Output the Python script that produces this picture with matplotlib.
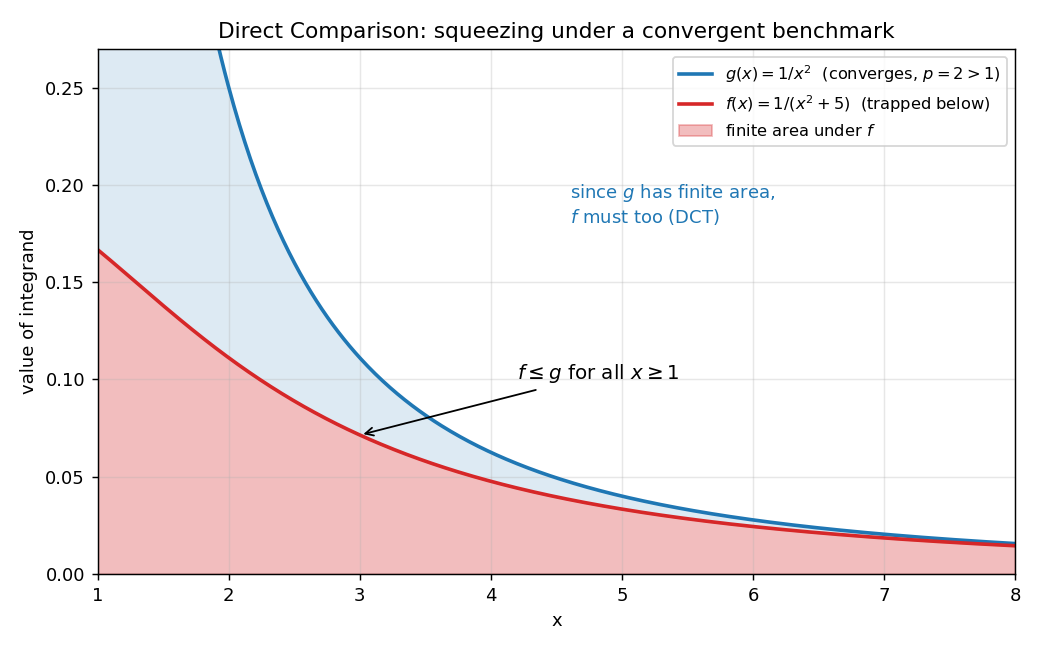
import matplotlib
matplotlib.use('Agg')
import matplotlib.pyplot as plt
import numpy as np

# domain and the two integrands named in the legend
x_lo, x_hi = 1, 8
y_top = 0.27
xs = np.linspace(x_lo, x_hi, 500)
g = 1 / xs**2
f = 1 / (xs**2 + 5)

note_xy = (4.6, 0.19)
arrow_tip = (3, 1 / (3**2 + 5))
arrow_text = (4.2, 0.10)

fig, ax = plt.subplots(figsize=(8, 5), dpi=130)

ax.fill_between(xs, f, g, color='tab:blue', alpha=0.15)
ax.fill_between(xs, 0, f, color='tab:red', alpha=0.3, label='finite area under $f$')
ax.plot(xs, g, color='tab:blue', lw=2,
        label=r'$g(x)=1/x^2$  (converges, $p=2>1$)')
ax.plot(xs, f, color='tab:red', lw=2,
        label=r'$f(x)=1/(x^2+5)$  (trapped below)')

ax.annotate(r'$f \leq g$ for all $x \geq 1$', xy=arrow_tip, xytext=arrow_text,
            fontsize=11, arrowprops=dict(arrowstyle='->', color='black', lw=1))
ax.text(note_xy[0], note_xy[1], 'since $g$ has finite area,\n$f$ must too (DCT)',
        color='tab:blue', fontsize=10, va='center')

ax.set_xlim(x_lo, x_hi)
ax.set_ylim(0, y_top)
ax.set_xlabel('x')
ax.set_ylabel('value of integrand')
ax.set_title('Direct Comparison: squeezing under a convergent benchmark', fontsize=12)
ax.grid(alpha=0.3)

# legend order: g, f, fill
h, l = ax.get_legend_handles_labels()
order = [1, 2, 0]
ax.legend([h[i] for i in order], [l[i] for i in order], loc='upper right', fontsize=9)

fig.subplots_adjust(left=0.094, right=0.976, top=0.925, bottom=0.117)
fig.savefig('out.png')
